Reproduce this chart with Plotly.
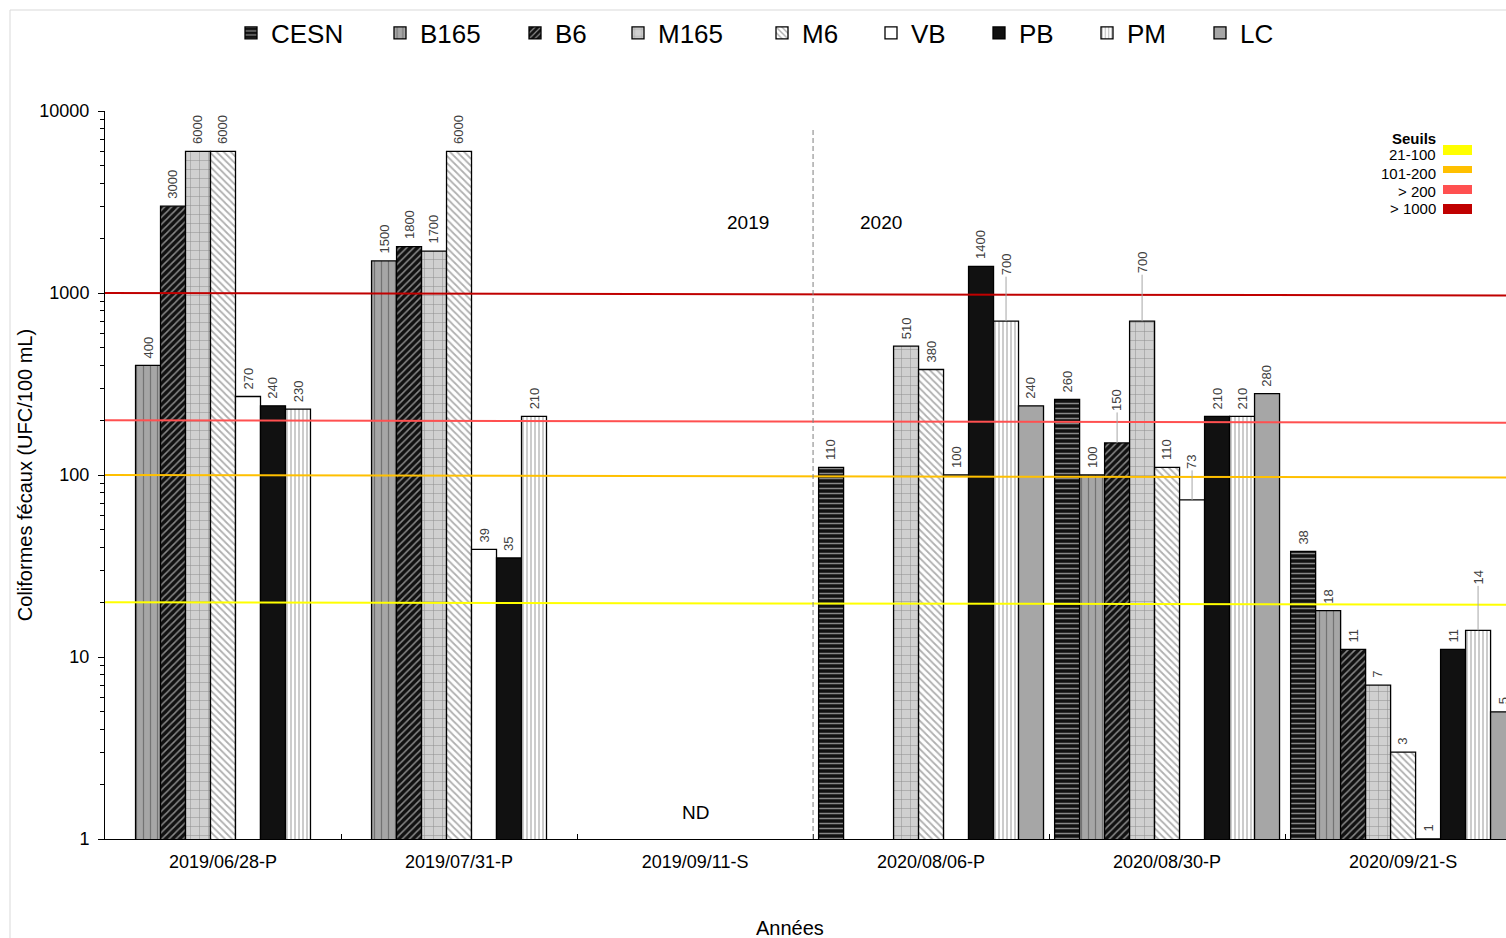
import math
import plotly.graph_objects as go

# ---------------- data ----------------
dates = ["2019/06/28-P", "2019/07/31-P", "2019/09/11-S",
         "2020/08/06-P", "2020/08/30-P", "2020/09/21-S"]
series_names = ["CESN", "B165", "B6", "M165", "M6", "VB", "PB", "PM", "LC"]

CESN = [None, None, None, 110, 260, 38]
B165 = [400, 1500, None, None, 100, 18]
B6 = [3000, 1800, None, None, 150, 11]
M165 = [6000, 1700, None, 510, 700, 7]
M6 = [6000, 6000, None, 380, 110, 3]
VB = [270, 39, None, 100, 73, 1]
PB = [240, 35, None, 1400, 210, 11]
PM = [230, 210, None, 700, 210, 14]
LC = [None, None, None, 240, 280, 5]

thresholds = [20, 100, 200, 1000]
threshold_labels = ["21-100", "101-200", "> 200", "> 1000"]
y_tick_values = [1, 10, 100, 1000, 10000]
y_tick_labels = ["1", "10", "100", "1000", "10000"]
nd_label = "ND"
year_labels = ["2019", "2020"]
x_title = "Années"
y_title = "Coliformes fécaux (UFC/100 mL)"

values = {"CESN": CESN, "B165": B165, "B6": B6, "M165": M165, "M6": M6,
          "VB": VB, "PB": PB, "PM": PM, "LC": LC}

# ---------------- styles ----------------
FONT = "Liberation Sans, Arial, sans-serif"
styles = {
    "CESN": dict(color="#111111", pattern=dict(shape="-", fgcolor="white", bgcolor="#111111", size=5, solidity=0.3)),
    "B165": dict(color="#A6A6A6", pattern=dict(shape="|", fgcolor="#404040", bgcolor="#A6A6A6", size=7, solidity=0.18)),
    "B6": dict(color="#111111", pattern=dict(shape="/", fgcolor="white", bgcolor="#111111", size=5, solidity=0.3)),
    "M165": dict(color="#D0D0D0", pattern=dict(shape="+", fgcolor="#404040", bgcolor="#D0D0D0", size=9, solidity=0.1)),
    "M6": dict(color="white", pattern=dict(shape="\\", fgcolor="#606060", bgcolor="white", size=5, solidity=0.35)),
    "VB": dict(color="white"),
    "PB": dict(color="#111111"),
    "PM": dict(color="white", pattern=dict(shape="|", fgcolor="#808080", bgcolor="white", size=4, solidity=0.4)),
    "LC": dict(color="#A6A6A6"),
}
threshold_colors = ["#FFFF00", "#FFC000", "#FF5050", "#C00000"]
threshold_drop_px = 2.5  # the threshold lines fall slightly from left to right

# legend symbol centres (pixels) for each series entry along the top row
legend_symbol_px = [251, 400, 535, 638, 782, 891, 999, 1107, 1220]

# labels that use a leader line: (series, group index) -> pixel lift of label centre
leader_lift = {("PM", 3): 57, ("M165", 4): 59, ("B6", 4): 43, ("VB", 4): 38, ("PM", 5): 53}

BARGAP = 0.047
n = len(series_names)
bar_w = (1 - BARGAP) / n
PX_PER_DECADE = 728 / 4


def py2paper(py):
    return (839 - py) / 728


def px2paper(px):
    return (px - 105) / 1401


legend_keys = ["legend"] + ["legend%d" % k for k in range(2, n + 1)]

fig = go.Figure()
for name, lkey in zip(series_names, legend_keys):
    st = styles[name]
    marker = dict(color=st["color"], line=dict(color="black", width=1.3))
    if "pattern" in st:
        marker["pattern"] = st["pattern"]
    fig.add_trace(go.Bar(name=name, x=dates, y=values[name], marker=marker,
                         legend=lkey, hoverinfo="x+y+name"))

annotations = []
for i, name in enumerate(series_names):
    for j, v in enumerate(values[name]):
        if v is None:
            continue
        xpos = j + (i - (n - 1) / 2) * bar_w
        key = (name, j)
        if key in leader_lift:
            annotations.append(dict(x=xpos, y=math.log10(v), xref="x", yref="y",
                                    text=str(v), textangle=-90, showarrow=True,
                                    arrowhead=0, arrowwidth=1, arrowcolor="#A6A6A6",
                                    ax=0, ay=-leader_lift[key],
                                    font=dict(family=FONT, size=13, color="#404040")))
        else:
            annotations.append(dict(x=xpos, y=math.log10(v), xref="x", yref="y",
                                    text=str(v), textangle=-90, showarrow=False,
                                    yanchor="bottom", yshift=5,
                                    font=dict(family=FONT, size=13, color="#404040")))

# ND and year labels
annotations.append(dict(x=2, y=py2paper(812), xref="x", yref="paper", text=nd_label,
                        yanchor="middle", showarrow=False,
                        font=dict(family=FONT, size=19, color="black")))
annotations.append(dict(x=2.5, y=py2paper(222), xref="x", yref="paper", text=year_labels[0],
                        yanchor="middle", xshift=-65, showarrow=False,
                        font=dict(family=FONT, size=19, color="black")))
annotations.append(dict(x=2.5, y=py2paper(222), xref="x", yref="paper", text=year_labels[1],
                        yanchor="middle", xshift=68, showarrow=False,
                        font=dict(family=FONT, size=19, color="black")))
# x axis title
annotations.append(dict(x=px2paper(790), y=py2paper(928), xref="paper", yref="paper",
                        text=x_title, xanchor="center", yanchor="middle", showarrow=False,
                        font=dict(family=FONT, size=20, color="black")))

# Seuils legend
annotations.append(dict(x=px2paper(1438), y=py2paper(138), xref="paper", yref="paper",
                        text="<b>Seuils</b>", xanchor="right", yanchor="middle", showarrow=False,
                        font=dict(family=FONT, size=15, color="black")))
shapes = []
seuil_text_y = [154, 173, 191, 209]
seuil_rect_y = [(145, 155), (166, 173), (185, 194), (204, 214)]
for lab, col, ty, (r0, r1) in zip(threshold_labels, threshold_colors, seuil_text_y, seuil_rect_y):
    annotations.append(dict(x=px2paper(1438), y=py2paper(ty), xref="paper", yref="paper",
                            text=lab, xanchor="right", yanchor="middle", showarrow=False,
                            font=dict(family=FONT, size=15, color="black")))
    shapes.append(dict(type="rect", xref="paper", yref="paper",
                       x0=px2paper(1443), x1=px2paper(1472),
                       y0=py2paper(r1), y1=py2paper(r0),
                       fillcolor=col, line=dict(width=0), layer="above"))

# threshold lines (shape y on a log axis takes the data value)
drop_factor = 10 ** (-threshold_drop_px / PX_PER_DECADE)
for t, col in zip(thresholds, threshold_colors):
    shapes.append(dict(type="line", xref="paper", yref="y", x0=0, x1=1,
                       y0=t, y1=t * drop_factor, line=dict(color=col, width=2), layer="above"))

# divider between years
shapes.append(dict(type="line", xref="x", yref="paper", x0=2.5, x1=2.5, y0=0, y1=py2paper(130),
                   line=dict(color="#7F7F7F", width=1, dash="5px,3px"), layer="above"))

# chart-area border (light grey, top and left)
shapes.append(dict(type="line", xref="paper", yref="paper", x0=px2paper(10), x1=1.01,
                   y0=py2paper(10), y1=py2paper(10), line=dict(color="#D9D9D9", width=1)))
shapes.append(dict(type="line", xref="paper", yref="paper", x0=px2paper(10), x1=px2paper(10),
                   y0=py2paper(10), y1=py2paper(945), line=dict(color="#D9D9D9", width=1)))

layout_legends = {}
for lkey, cx in zip(legend_keys, legend_symbol_px):
    layout_legends[lkey] = dict(orientation="h", x=px2paper(cx - 20), xanchor="left",
                                y=py2paper(33), yanchor="middle",
                                font=dict(family=FONT, size=26, color="black"),
                                bgcolor="rgba(0,0,0,0)", borderwidth=0)

fig.update_layout(
    width=1506, height=938,
    margin=dict(l=105, r=0, t=111, b=99, autoexpand=False),
    paper_bgcolor="white", plot_bgcolor="white",
    barmode="group", bargap=BARGAP, bargroupgap=0,
    font=dict(family=FONT, color="black"),
    showlegend=True,
    annotations=annotations,
    shapes=shapes,
    **layout_legends,
)

fig.update_xaxes(
    type="category", range=[-0.5, 5.436], tickson="boundaries",
    ticks="inside", ticklen=5, tickcolor="black",
    showline=True, linecolor="black", linewidth=1, showgrid=False, zeroline=False,
    tickfont=dict(family=FONT, size=18, color="black"), ticklabelstandoff=6,
)
fig.update_yaxes(
    type="log", range=[0, 4],
    tickmode="array", tickvals=y_tick_values, ticktext=y_tick_labels,
    ticks="outside", ticklen=6, tickcolor="black",
    minor=dict(dtick="D1", ticks="outside", ticklen=4, tickcolor="black", showgrid=False),
    showline=True, linecolor="black", linewidth=1, showgrid=False, zeroline=False,
    tickfont=dict(family=FONT, size=18, color="black"), ticklabelstandoff=5,
    title=dict(text=y_title, font=dict(family=FONT, size=20, color="black"), standoff=1),
)

fig.write_html("out.html")
